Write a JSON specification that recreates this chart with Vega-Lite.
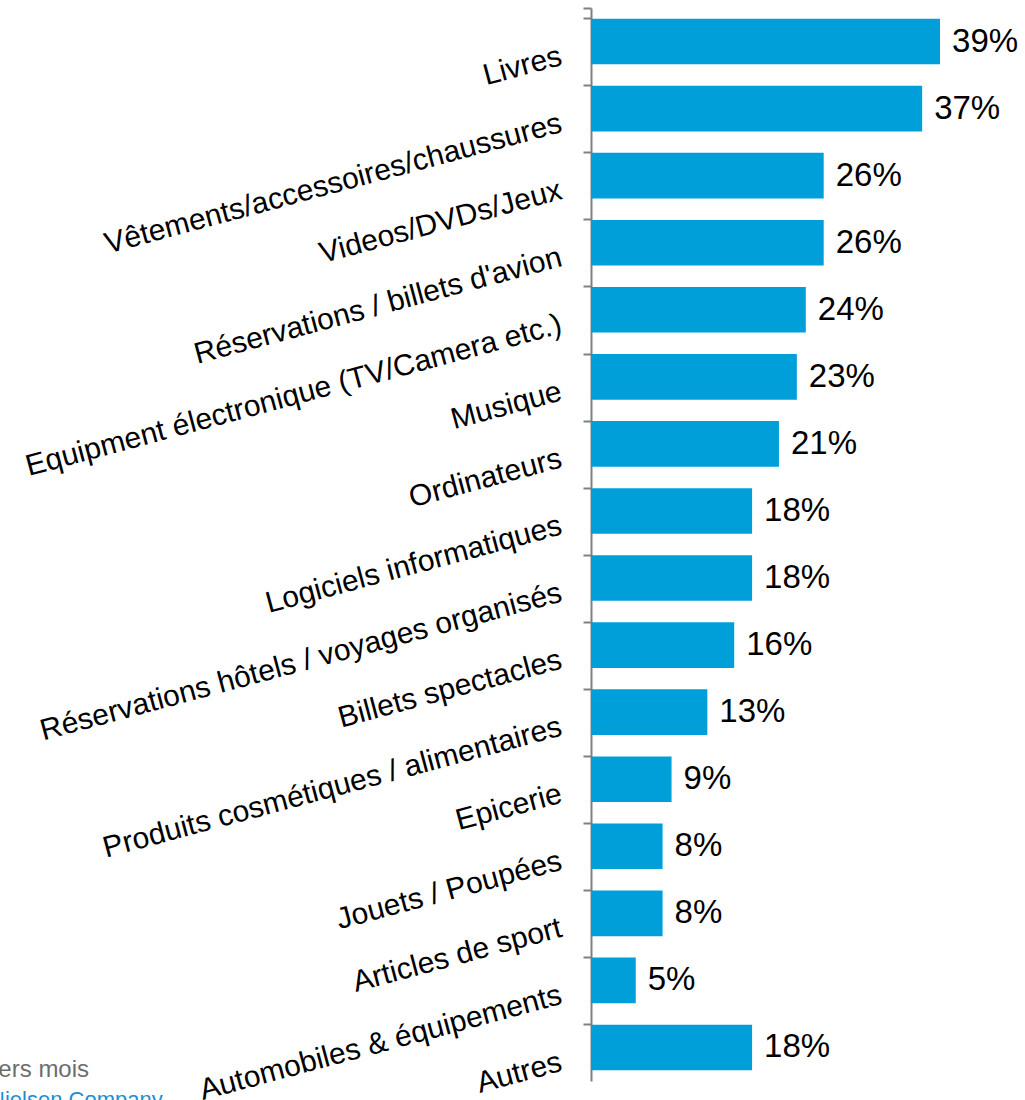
{
  "$schema": "https://vega.github.io/schema/vega-lite/v6.json",
  "width": 358,
  "height": 1073,
  "autosize": {"type": "none"},
  "padding": {"left": 591, "top": 8, "right": 76, "bottom": 19},
  "background": "white",
  "config": {"view": {"stroke": null}, "font": "Liberation Sans"},
  "title": {
    "text": "derniers mois",
    "subtitle": "The Nielsen Company",
    "orient": "bottom",
    "anchor": "start",
    "frame": "group",
    "dx": -646,
    "offset": -47,
    "baseline": "top",
    "font": "Liberation Sans",
    "fontSize": 24,
    "fontWeight": "normal",
    "color": "#6d6d6d",
    "subtitleFont": "Liberation Sans",
    "subtitleFontSize": 22,
    "subtitleColor": "#1a8fd6",
    "subtitlePadding": 8
  },
  "data": {
    "values": [
      {"cat": "Livres", "v": 0.39},
      {"cat": "Vêtements/accessoires/chaussures\u00a0", "v": 0.37},
      {"cat": "Videos/DVDs/Jeux", "v": 0.26},
      {"cat": "Réservations / billets d'avion\u00a0", "v": 0.26},
      {"cat": "Equipment électronique (TV/Camera etc.)", "v": 0.24},
      {"cat": "Musique", "v": 0.23},
      {"cat": "Ordinateurs\u00a0", "v": 0.21},
      {"cat": "Logiciels informatiques", "v": 0.18},
      {"cat": "Réservations hôtels / voyages organisés\u00a0", "v": 0.18},
      {"cat": "Billets spectacles", "v": 0.16},
      {"cat": "Produits cosmétiques / alimentaires\u00a0", "v": 0.13},
      {"cat": "Epicerie", "v": 0.09},
      {"cat": "Jouets / Poupées", "v": 0.08},
      {"cat": "Articles de sport", "v": 0.08},
      {"cat": "Automobiles & équipements", "v": 0.05},
      {"cat": "Autres", "v": 0.18}
    ]
  },
  "encoding": {
    "y": {
      "field": "cat",
      "type": "nominal",
      "sort": null,
      "scale": {"paddingInner": 0.32, "paddingOuter": 0.16},
      "axis": {
        "title": null,
        "domainColor": "#808080",
        "domainWidth": 2,
        "tickColor": "#808080",
        "tickWidth": 2,
        "tickSize": 8,
        "bandPosition": 0,
        "tickExtra": true,
        "labelAngle": -15,
        "labelAlign": "right",
        "labelBaseline": "alphabetic",
        "labelFont": "Liberation Sans",
        "labelFontSize": 30,
        "labelColor": "black",
        "labelPadding": 20,
        "labelOffset": 23,
        "labelLimit": 1000,
        "labelOverlap": false,
        "labelBound": false
      }
    }
  },
  "layer": [
    {
      "mark": {"type": "bar", "color": "#009FDA"},
      "encoding": {
        "x": {"field": "v", "type": "quantitative", "scale": {"domain": [0, 0.4]}, "axis": null}
      }
    },
    {
      "mark": {"type": "text", "align": "left", "baseline": "middle", "dx": 12, "font": "Liberation Sans", "fontSize": 33, "color": "black"},
      "encoding": {
        "x": {"field": "v", "type": "quantitative"},
        "text": {"field": "v", "type": "quantitative", "format": ".0%"}
      }
    }
  ]
}
